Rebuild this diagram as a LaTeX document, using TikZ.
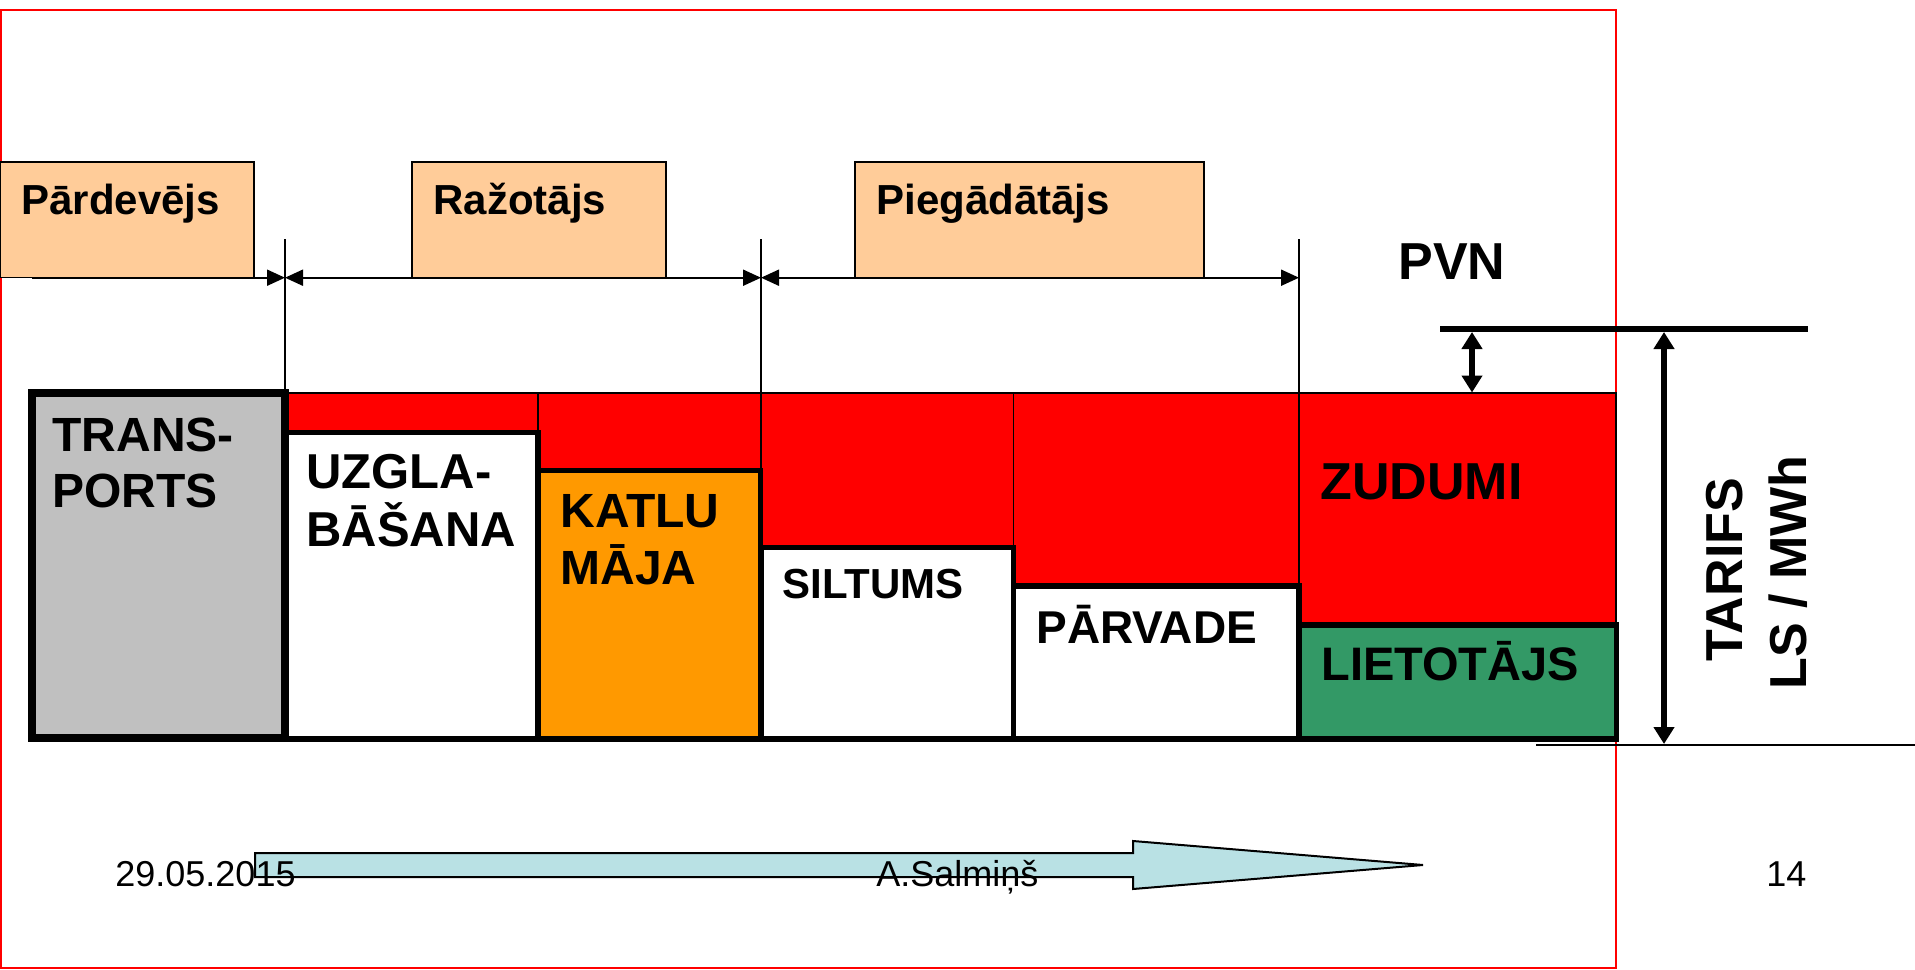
\documentclass[tikz,border=0pt]{standalone}
\usepackage{fontspec}
\setmainfont{Liberation Sans}
\usetikzlibrary{arrows.meta}
\definecolor{peach}{HTML}{FFCC99}
\definecolor{boxred}{HTML}{FF0000}
\definecolor{boxgray}{HTML}{C0C0C0}
\definecolor{boxorange}{HTML}{FF9900}
\definecolor{boxgreen}{HTML}{339966}
\definecolor{flowcyan}{HTML}{B9E1E4}
\newcommand{\fsz}[1]{\fontsize{#1}{#1}\selectfont}
\tikzset{
  smalltip/.tip={Triangle[length=9pt,width=8pt]},
  bigtip/.tip={Triangle[length=8.5pt,width=10pt]}
}
\begin{document}
\begin{tikzpicture}[x=0.5pt,y=-0.5pt,
  lbl/.style={anchor=base west, inner sep=0pt, font=\bfseries\fsz{#1}},
  lbl/.default=24pt,
  foot/.style={anchor=base west, inner sep=0pt, font=\fsz{18pt}},
  rolebox/.style={draw=black, line width=0.75pt, fill=peach},
  thickbox/.style={draw=black, line width=2.75pt},
  thinline/.style={draw=black, line width=0.8pt},
  dimline/.style={draw=black, line width=1pt}]
\useasboundingbox (0,0) rectangle (1915,969);
% page frame
\draw[boxred, line width=1pt] (1,9.5) rectangle (1616,968);

% role boxes
\draw[rolebox] (0,162) rectangle (254,277.7);
\draw[rolebox] (412,162) rectangle (666,277.7);
\draw[rolebox] (855,162) rectangle (1204,277.7);
\node[lbl=21pt] (pard) at (21,214) {Pārdevējs};
\node[lbl=21pt] (razo) at (433,214) {Ražotājs};
\node[lbl=21pt] (pieg) at (876,214) {Piegādātājs};

% coordinates for the dimension lines
\coordinate (a0) at (32,277.7);
\coordinate (a1) at (285,277.7);
\coordinate (a2) at (761,277.7);
\coordinate (a3) at (1299,277.7);
\coordinate (t1) at (285,239);
\coordinate (t2) at (761,239);
\coordinate (t3) at (1299,239);
\coordinate (b1) at (285,392.7);
\coordinate (b2) at (761,742);
\coordinate (b3) at (1299,742);

% red block (losses)
\draw[fill=boxred, line width=1pt] (285,392.7) rectangle (1616,741);
\draw[thinline] (538,392.7) -- (538,470);
\draw[thinline] (1013.5,392.7) -- (1013.5,742);
\draw[thinline] (t1) -- (b1);
\draw[thinline] (t2) -- (b2);
\draw[thinline] (t3) -- (b3);

% dimension arrows
\draw[dimline, -{smalltip}] (a0) -- (a1);
\draw[dimline, {smalltip}-{smalltip}] (a1) -- (a2);
\draw[dimline, {smalltip}-{smalltip}] (a2) -- (a3);

% cost boxes
\draw[draw=black, line width=4pt, fill=boxgray] (32,393) rectangle (285,738);
\draw[thickbox, fill=white] (286,432.7) rectangle (538,739);
\draw[thickbox, fill=boxorange] (538,470.5) rectangle (760.5,739);
\draw[thickbox, fill=white] (761,547.5) rectangle (1013.5,739);
\draw[thickbox, fill=white] (1013.5,586) rectangle (1299,739);
\draw[thickbox, fill=boxgreen] (1299,625) rectangle (1616.5,739);

\node[lbl=24pt] (trans1) at (52,451) {TRANS-};
\node[lbl=24pt] (trans2) at (52,507) {PORTS};
\node[lbl=24.5pt] (uzg1) at (306,488) {UZGLA-};
\node[lbl=24.5pt] (uzg2) at (306,546) {BĀŠANA};
\node[lbl=24pt] (kat1) at (560,527) {KATLU};
\node[lbl=24pt] (kat2) at (560,584) {MĀJA};
\node[lbl=21pt] (silt) at (782,598) {SILTUMS};
\node[lbl=23pt] (parv) at (1036,643) {PĀRVADE};
\node[lbl=26pt] (zud) at (1320,499) {ZUDUMI};
\node[lbl=23.5pt] (liet) at (1321,680) {LIETOTĀJS};

% PVN and tariff
\node[lbl=26pt] (pvn) at (1398,279) {PVN};
\coordinate (pL) at (1440,329);
\coordinate (pR) at (1808,329);
\draw[black, line width=3pt] (pL) -- (pR);
\coordinate (pvnTop) at (1472,332);
\coordinate (pvnBot) at (1472,392.5);
\draw[black, line width=3pt, {bigtip}-{bigtip}] (pvnTop) -- (pvnBot);
\coordinate (tarTop) at (1664,332);
\coordinate (tarBot) at (1664,744);
\draw[black, line width=3pt, {bigtip}-{bigtip}] (tarTop) -- (tarBot);
\coordinate (baseL) at (1536,745);
\coordinate (baseR) at (1915,745);
\draw[black, line width=1pt] (baseL) -- (baseR);
\node[anchor=base, inner sep=0pt, rotate=90, font=\bfseries\fsz{26pt}] (tar1) at (1742,570) {TARIFS};
\node[anchor=base, inner sep=0pt, rotate=90, font=\bfseries\fsz{26pt}] (tar2) at (1806,572.5) {LS / MWh};

% flow arrow and footer
\draw[fill=flowcyan, line width=1pt] (255,853) -- (1133,853) -- (1133,841) -- (1423,865) -- (1133,889) -- (1133,877) -- (255,877) -- cycle;
\node[foot] (date) at (115,886) {29.05.2015};
\node[foot] (auth) at (876,886) {A.Salmiņš};
\node[foot] (page) at (1766,886) {14};
\end{tikzpicture}
\end{document}
